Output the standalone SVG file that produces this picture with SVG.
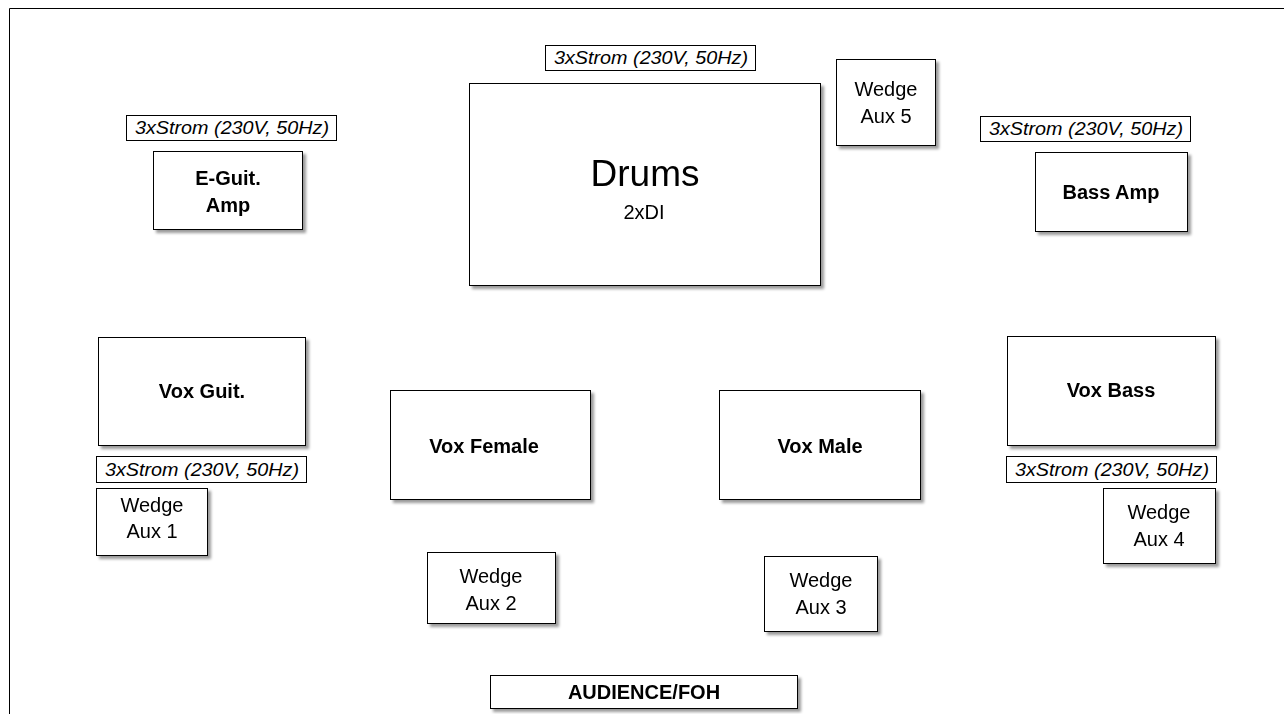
<svg xmlns="http://www.w3.org/2000/svg" width="1284" height="714" viewBox="0 0 1284 714">
<style>
.box{fill:#fff;stroke:#000;stroke-width:1}
.lbl{fill:#fff;stroke:#000;stroke-width:1}
text{font-family:"Liberation Sans",Arial,sans-serif;fill:#000;text-anchor:middle}
.b{font-weight:bold;font-size:20px}
.w{font-size:20px}
.i{font-style:italic;font-size:18px}
</style>
<defs>
<filter id="sh" x="-10%" y="-10%" width="130%" height="130%">
<feGaussianBlur in="SourceAlpha" stdDeviation="1.5"/>
<feOffset dx="3" dy="3" result="o"/>
<feComponentTransfer><feFuncA type="linear" slope="0.4"/></feComponentTransfer>
<feMerge><feMergeNode/><feMergeNode in="SourceGraphic"/></feMerge>
</filter>
</defs>
<rect width="1284" height="714" fill="#fff"/>
<path d="M9.5 714V8.5H1284" fill="none" stroke="#000" stroke-width="1"/>
<g id="connectors"/>
<g id="power-eguit"><rect class="lbl" x="126.5" y="115.5" width="210" height="25"/><text class="i" x="232" y="134" textLength="194" lengthAdjust="spacingAndGlyphs">3xStrom (230V, 50Hz)</text></g>
<g id="power-drums"><rect class="lbl" x="545.5" y="45.5" width="210" height="25"/><text class="i" x="651" y="64" textLength="194" lengthAdjust="spacingAndGlyphs">3xStrom (230V, 50Hz)</text></g>
<g id="power-bass"><rect class="lbl" x="980.5" y="116.5" width="210" height="25"/><text class="i" x="1086" y="135" textLength="194" lengthAdjust="spacingAndGlyphs">3xStrom (230V, 50Hz)</text></g>
<g id="power-voxguit"><rect class="lbl" x="96.5" y="456.5" width="210" height="26"/><text class="i" x="202" y="475.5" textLength="194" lengthAdjust="spacingAndGlyphs">3xStrom (230V, 50Hz)</text></g>
<g id="power-voxbass"><rect class="lbl" x="1006.5" y="456.5" width="210" height="26"/><text class="i" x="1112" y="475.5" textLength="194" lengthAdjust="spacingAndGlyphs">3xStrom (230V, 50Hz)</text></g>
<g id="eguit-amp" filter="url(#sh)"><rect class="box" x="153.5" y="151.5" width="149" height="78"/><text class="b" x="228" y="185">E-Guit.</text><text class="b" x="228" y="212">Amp</text></g>
<g id="drums" filter="url(#sh)"><rect class="box" x="469.5" y="83.5" width="351" height="202"/><text x="645" y="186" style="font-size:37px">Drums</text><text x="644" y="219" style="font-size:20px">2xDI</text></g>
<g id="wedge-aux5" filter="url(#sh)"><rect class="box" x="836.5" y="59.5" width="99" height="86"/><text class="w" x="886" y="96">Wedge</text><text class="w" x="886" y="123">Aux 5</text></g>
<g id="bass-amp" filter="url(#sh)"><rect class="box" x="1035.5" y="152.5" width="152" height="79"/><text class="b" x="1111" y="199">Bass Amp</text></g>
<g id="vox-guit" filter="url(#sh)"><rect class="box" x="98.5" y="337.5" width="207" height="108"/><text class="b" x="202" y="398">Vox Guit.</text></g>
<g id="vox-female" filter="url(#sh)"><rect class="box" x="390.5" y="390.5" width="200" height="109"/><text class="b" x="484" y="453">Vox Female</text></g>
<g id="vox-male" filter="url(#sh)"><rect class="box" x="719.5" y="390.5" width="201" height="109"/><text class="b" x="820" y="453">Vox Male</text></g>
<g id="vox-bass" filter="url(#sh)"><rect class="box" x="1007.5" y="336.5" width="208" height="109"/><text class="b" x="1111" y="397">Vox Bass</text></g>
<g id="wedge-aux1" filter="url(#sh)"><rect class="box" x="96.5" y="488.5" width="111" height="67"/><text class="w" x="152" y="512">Wedge</text><text class="w" x="152" y="538">Aux 1</text></g>
<g id="wedge-aux2" filter="url(#sh)"><rect class="box" x="427.5" y="552.5" width="128" height="71"/><text class="w" x="491" y="583">Wedge</text><text class="w" x="491" y="610">Aux 2</text></g>
<g id="wedge-aux3" filter="url(#sh)"><rect class="box" x="764.5" y="556.5" width="113" height="75"/><text class="w" x="821" y="587">Wedge</text><text class="w" x="821" y="614">Aux 3</text></g>
<g id="wedge-aux4" filter="url(#sh)"><rect class="box" x="1103.5" y="488.5" width="112" height="75"/><text class="w" x="1159" y="519">Wedge</text><text class="w" x="1159" y="546">Aux 4</text></g>
<g id="audience" filter="url(#sh)"><rect class="box" x="490.5" y="675.5" width="307" height="33"/><text class="b" x="644" y="699">AUDIENCE/FOH</text></g>
</svg>
